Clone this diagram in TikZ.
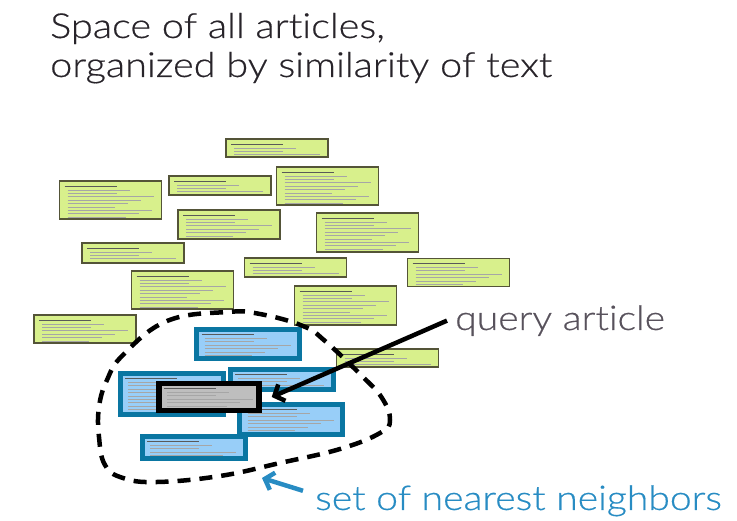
\documentclass[tikz,border=0pt]{standalone}
\usepackage{fontspec}
\setmainfont{Lato Light}[FakeStretch=1.15, FakeBold=0.5, Ligatures=NoCommon]
\usetikzlibrary{arrows.meta}
\definecolor{leafgreen}{RGB}{216,240,140}
\definecolor{olivegray}{RGB}{84,84,56}
\definecolor{skyfill}{RGB}{152,206,248}
\definecolor{tealedge}{RGB}{10,118,162}
\definecolor{queryfill}{RGB}{190,190,190}
\definecolor{titleink}{RGB}{40,36,42}
\definecolor{labelgray}{RGB}{88,82,92}
\definecolor{labelblue}{RGB}{40,140,195}
\tikzset{article/.style={minimum width=102pt, inner sep=0pt, path picture={
        \draw[line width=.8pt, black!65] ([shift={(5pt,-5pt)}]path picture bounding box.north west) -- ++(52,0);
        \foreach \k in {2,...,#1}
            \draw[line width=.45pt, black!35] ([shift={(8pt,-\k*3.4pt-2pt)}]path picture bounding box.north west) -- ++({38+mod(\k*37,50)},0);
    }}}
\tikzset{greenart/.style={article=#1, draw=olivegray, fill=leafgreen, line width=1.4pt}}
\tikzset{blueart/.style={article=#1, draw=tealedge, fill=skyfill, line width=5pt, minimum width=103pt}}
\tikzset{queryart/.style={article=#1, draw=black, fill=queryfill, line width=5.5pt, minimum width=100pt}}
\tikzset{pointer/.style={line width=4.5pt, -{Straight Barb[length=8pt, width=18pt]}}}

\begin{document}
\begin{tikzpicture}[x=1pt, y=-1pt]
    \useasboundingbox (0,0) rectangle (737,521);
    % heading
    \node[anchor=base west, inner sep=0pt, text=titleink, font=\fontsize{34.5}{40}\selectfont] (title) at (50,38) {Space of all articles,};
    \node[anchor=base west, inner sep=0pt, text=titleink, font=\fontsize{34.5}{40}\selectfont] (subtitle) at (50,77) {organized by similarity of text};
    % all articles
    \node[greenart=4, minimum height=18pt] (gA) at (277,148) {};
    \node[greenart=10, minimum height=38pt] (gB) at (327.5,186) {};
    \node[greenart=10, minimum height=38pt] (gC) at (110.5,200) {};
    \node[greenart=4, minimum height=19pt] (gD) at (220,185.5) {};
    \node[greenart=7, minimum height=29pt] (gE) at (229,224.5) {};
    \node[greenart=10, minimum height=39pt] (gF) at (367.5,232.5) {};
    \node[greenart=4, minimum height=20pt] (gG) at (133,253) {};
    \node[greenart=4, minimum height=19pt] (gH) at (295.5,267.5) {};
    \node[greenart=7, minimum height=28pt] (gI) at (458.5,272.5) {};
    \node[greenart=10, minimum height=38pt] (gJ) at (182.5,290) {};
    \node[greenart=10, minimum height=39pt] (gK) at (345.5,305.5) {};
    \node[greenart=7, minimum height=28pt] (gL) at (85,329) {};
    \node[greenart=4, minimum height=18pt] (gM) at (387.5,358) {};
    % nearest neighbours
    \node[blueart=6, minimum height=22pt] (nE) at (193.5,447.5) {};
    \node[blueart=11, minimum height=41pt] (nB) at (171.5,394) {};
    \node[blueart=8, minimum height=29pt] (nA) at (248,344) {};
    \node[blueart=5, minimum height=20pt] (nC) at (281.5,379.5) {};
    \node[blueart=8, minimum height=30pt] (nD) at (291,419.5) {};
    \node[queryart=7, minimum height=27pt] (q) at (209,397) {};
    % neighbourhood
    \draw[line width=4.5pt, dash pattern=on 13pt off 9pt] plot[smooth cycle, tension=0.7] coordinates {
        (123,355) (167,321) (227,312) (260,314) (303,326) (325,341) (363,377) (382,398)
        (390,420) (380,433) (340,449) (280,463) (220,476) (157,482) (123,478) (105,465)
        (99,437) (99,407) (107,380)};
    % labels
    \node[anchor=base west, inner sep=4pt, text=labelgray, font=\fontsize{34}{40}\selectfont] (qlabel) at (451,330) {query article};
    \node[anchor=base west, inner sep=4pt, text=labelblue, font=\fontsize{34}{40}\selectfont] (nnlabel) at (311,510) {set of nearest neighbors};
    \coordinate (nnpt) at (262,478);
    \draw[pointer] ([xshift=-4pt]qlabel.west) -- ([xshift=10pt]q.east);
    \draw[pointer, labelblue] ([shift={(-8pt,10pt)}]nnlabel.west) -- (nnpt);
\end{tikzpicture}
\end{document}
